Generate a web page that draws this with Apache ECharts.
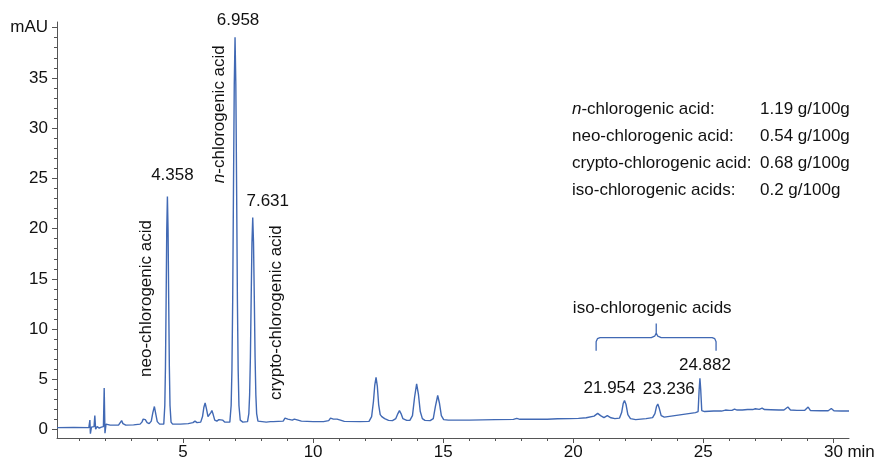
<!DOCTYPE html>
<html><head><meta charset="utf-8">
<script src="https://cdn.jsdelivr.net/npm/echarts@6/dist/echarts.min.js"></script>
<style>html,body{margin:0;padding:0;background:#fff}#c{width:880px;height:460px}</style>
</head><body><div id="c"></div>
<script>
const retentionTime = [0.16,0.8,1.38,1.42,1.44,1.48,1.58,1.61,1.64,1.7,1.78,1.86,1.94,1.97,2.0,2.04,2.2,2.52,2.59,2.64,2.69,2.8,3.1,3.35,3.42,3.47,3.51,3.55,3.62,3.7,3.78,3.84,3.9,3.95,4.01,4.1,4.26,4.30,4.325,4.35,4.375,4.40,4.425,4.45,4.475,4.50,4.54,4.6,4.9,5.2,5.38,5.46,5.54,5.68,5.75,5.8,5.85,5.9,5.96,6.02,6.07,6.11,6.16,6.22,6.3,6.38,6.45,6.52,6.6,6.8,6.85,6.88,6.91,6.94,6.97,7.0,7.03,7.06,7.09,7.12,7.15,7.2,7.3,7.48,7.53,7.56,7.59,7.62,7.65,7.68,7.71,7.74,7.77,7.80,7.83,7.88,7.95,8.2,8.36,8.41,8.47,8.85,8.92,8.97,9.03,9.1,9.2,9.28,9.34,9.42,9.55,10.0,10.4,10.6,10.67,10.72,10.78,10.84,10.92,10.97,11.05,11.2,11.8,12.15,12.25,12.32,12.37,12.42,12.47,12.52,12.58,12.64,12.68,12.75,12.9,13.05,13.18,13.26,13.32,13.38,13.45,13.6,13.72,13.82,13.9,13.98,14.05,14.12,14.2,14.3,14.5,14.62,14.7,14.79,14.86,14.93,15.02,15.2,16.0,17.0,17.7,17.83,17.95,18.6,19.0,19.4,19.88,20.2,20.5,20.8,20.94,21.05,21.18,21.31,21.45,21.6,21.78,21.86,21.92,21.97,22.03,22.1,22.2,22.4,22.8,23.05,23.14,23.2,23.25,23.31,23.38,23.5,23.9,24.3,24.7,24.8,24.84,24.87,24.9,24.94,25.05,25.4,25.7,25.85,25.92,26.0,26.1,26.2,26.3,26.5,26.7,26.9,27.0,27.07,27.15,27.26,27.35,27.6,27.9,28.1,28.25,28.35,28.6,28.9,29.03,29.12,29.5,29.8,29.92,30.02,30.3,30.6];
const signal = [0.2,0.22,0.2,0.95,-0.4,0.25,0.3,1.4,0.05,0.3,0.15,0.25,0.3,4.15,-0.35,0.55,0.45,0.45,0.6,0.9,0.6,0.45,0.48,0.55,0.75,1.05,1.2,1.0,0.7,0.6,0.85,1.7,2.3,1.6,0.8,0.55,0.55,2.4,6.2,12.7,19.9,23.2,19.9,12.7,6.2,2.4,0.75,0.55,0.55,0.6,0.7,0.85,0.7,0.75,1.3,2.2,2.65,2.1,1.3,1.35,1.7,1.9,1.5,0.95,0.85,1.0,1.15,0.95,0.75,0.75,2.4,5.9,13.0,24.1,34.4,39.05,34.4,24.1,13.0,5.9,2.4,0.95,0.75,0.8,1.6,3.45,7.2,13.1,18.6,21.1,18.6,13.1,7.2,3.45,1.6,0.85,0.75,0.75,0.8,0.9,0.8,0.85,1.15,1.3,1.05,0.9,0.95,1.05,1.08,0.95,0.85,0.8,0.8,0.9,1.15,1.25,1.05,0.88,1.05,1.12,0.95,0.82,0.8,0.82,1.3,2.8,4.4,5.2,4.3,2.5,1.5,1.3,1.35,1.1,0.92,0.9,1.1,1.6,1.9,1.6,1.1,0.92,0.92,1.4,3.2,4.55,3.5,1.8,1.1,0.92,0.9,1.1,2.3,3.4,2.6,1.4,1.0,0.95,0.95,1.0,1.02,1.12,1.03,1.05,1.04,1.08,1.1,1.12,1.18,1.35,1.62,1.4,1.2,1.4,1.18,1.1,1.15,1.7,2.6,2.9,2.5,1.5,1.1,1.0,1.1,1.2,1.6,2.3,2.55,2.1,1.4,1.25,1.4,1.55,1.7,1.8,4.0,5.1,4.0,1.9,1.8,1.85,1.85,1.95,2.12,1.92,1.92,2.05,1.95,1.95,2.0,2.0,2.08,2.12,2.02,2.15,2.0,1.98,1.95,1.95,2.25,1.95,1.92,1.92,2.25,1.9,1.88,1.88,2.1,1.88,1.85,1.85];

const peakTimes = [4.40, 7.0, 7.68, 21.97, 23.25, 24.87];
const peakHeights = [23.2, 39.05, 21.1, 2.9, 2.55, 5.1];
const peakLabels = ['4.358', '6.958', '7.631', '21.954', '23.236', '24.882'];
const compoundNames = ['neo-chlorogenic acid', '{i|n}-chlorogenic acid', 'crypto-chlorogenic acid'];
const contentNames = ['{i|n}-chlorogenic acid:', 'neo-chlorogenic acid:', 'crypto-chlorogenic acid:', 'iso-chlorogenic acids:'];
const contentValues = ['1.19 g/100g', '0.54 g/100g', '0.68 g/100g', '0.2 g/100g'];
const groupLabel = 'iso-chlorogenic acids';
const xUnit = 'min';
const braceTime = [20.88,20.88,20.93,21.03,23.0,23.13,23.19,23.19,23.19,23.25,23.38,25.34,25.44,25.49,25.49];
const braceLevel = [7.86,8.75,9.05,9.15,9.15,9.3,9.6,10.55,9.6,9.3,9.15,9.15,9.05,8.75,7.86];
const xMajorTicks = [5, 10, 15, 20, 25, 30];
const xMinorTicks = [1,2,3,4,5,6,7,8,9,10,11,12,13,14,15,16,17,18,19,20,21,22,23,24,25,26,27,28,29,30];
const yMajorTicks = [0, 5, 10, 15, 20, 25, 30, 35, 40];
const yMinorTicks = [0,1,2,3,4,5,6,7,8,9,10,11,12,13,14,15,16,17,18,19,20,21,22,23,24,25,26,27,28,29,30,31,32,33,34,35,36,37,38,39,40];

const F = '"Liberation Sans", Arial, sans-serif';
const FS = 17;
const LINE = '#4169b4';
const AX = '#555';
const X_MIN = 0.156, X_MAX = 30.6, Y_MIN = -0.83, Y_MAX = 40.56;

const chart = echarts.init(document.getElementById('c'), null, {renderer: 'canvas'});
const baseX = {type: 'value', min: X_MIN, max: X_MAX, splitLine: {show: false}};
const baseY = {type: 'value', min: Y_MIN, max: Y_MAX, splitLine: {show: false}};
chart.setOption({
  animation: false,
  grid: {left: 57, right: 31, top: 22, bottom: 22, containLabel: false, outerBoundsMode: 'none'},
  xAxis: [
    Object.assign({}, baseX, {
      position: 'bottom',
      axisLine: {onZero: false, lineStyle: {color: AX, width: 1}},
      axisTick: {customValues: xMajorTicks, length: 5, lineStyle: {color: AX}},
      axisLabel: {customValues: xMajorTicks, color: '#111', fontSize: FS, fontFamily: F, margin: 6}
    }),
    Object.assign({}, baseX, {
      position: 'bottom',
      axisLine: {show: false, onZero: false},
      axisTick: {customValues: xMinorTicks, length: 3, lineStyle: {color: AX}},
      axisLabel: {show: false}
    })
  ],
  yAxis: [
    Object.assign({}, baseY, {
      position: 'left',
      axisLine: {show: true, onZero: false, lineStyle: {color: AX, width: 1}},
      axisTick: {show: true, customValues: yMajorTicks, length: 5, lineStyle: {color: AX}},
      axisLabel: {customValues: yMajorTicks, color: '#111', fontSize: FS, fontFamily: F, margin: 9,
        padding: [3, 0, 0, 0],
        formatter: v => (v === 40 ? 'mAU' : String(v))}
    }),
    Object.assign({}, baseY, {
      position: 'left',
      axisLine: {show: false, onZero: false},
      axisTick: {show: true, customValues: yMinorTicks, length: 3, lineStyle: {color: AX}},
      axisLabel: {show: false}
    })
  ],
  series: [
    {
      name: 'signal', type: 'line', xAxisIndex: 0, yAxisIndex: 0,
      data: retentionTime.map((t, i) => [t, signal[i]]),
      showSymbol: false, symbol: 'none', smooth: false,
      lineStyle: {color: LINE, width: 1.4}, clip: true
    },
    {
      name: 'brace', type: 'line', xAxisIndex: 0, yAxisIndex: 0,
      data: braceTime.map((t, i) => [t, braceLevel[i]]),
      showSymbol: false, symbol: 'none',
      lineStyle: {color: LINE, width: 1.3}
    }
  ]
});

const px = (t, v) => chart.convertToPixel({xAxisIndex: 0, yAxisIndex: 0}, [t, v]);
const peakOffsets = [[5, -21], [3, -17], [15, -16], [-15, -12], [11, -15], [5, -13]];
const nameOffsets = [[-21, 102], [-16, 77], [24, 95]];
const rich = {i: {fontStyle: 'italic', fontSize: FS, fontFamily: F, fill: '#111'}};
const graphics = [];
peakLabels.forEach((lab, i) => {
  const p = px(peakTimes[i], peakHeights[i]);
  graphics.push({type: 'text', x: p[0] + peakOffsets[i][0], y: p[1] + peakOffsets[i][1],
    style: {text: lab, font: FS + 'px ' + F, fill: '#111', textAlign: 'center', textVerticalAlign: 'middle'}});
});
compoundNames.forEach((nm, i) => {
  const p = px(peakTimes[i], peakHeights[i]);
  graphics.push({type: 'text', x: p[0] + nameOffsets[i][0], y: p[1] + nameOffsets[i][1], rotation: Math.PI / 2,
    style: {text: nm, font: FS + 'px ' + F, fill: '#111', textAlign: 'center', textVerticalAlign: 'middle', rich: rich}});
});
const bt = px(braceTime[7], braceLevel[7]);
graphics.push({type: 'text', x: bt[0] - 4, y: bt[1] - 15,
  style: {text: groupLabel, font: FS + 'px ' + F, fill: '#111', textAlign: 'center', textVerticalAlign: 'middle'}});
const lastTick = px(xMajorTicks[xMajorTicks.length - 1], Y_MIN);
graphics.push({type: 'text', x: lastTick[0] + 14, y: lastTick[1] + 14,
  style: {text: xUnit, font: FS + 'px ' + F, fill: '#111', textAlign: 'left', textVerticalAlign: 'middle'}});
contentNames.forEach((nm, i) => {
  graphics.push({type: 'text', x: 572, y: 109 + i * 27,
    style: {text: nm, font: FS + 'px ' + F, fill: '#111', textAlign: 'left', textVerticalAlign: 'middle', rich: rich}});
  graphics.push({type: 'text', x: 760, y: 109 + i * 27,
    style: {text: contentValues[i], font: FS + 'px ' + F, fill: '#111', textAlign: 'left', textVerticalAlign: 'middle'}});
});
chart.setOption({graphic: graphics});
</script>
</body></html>
